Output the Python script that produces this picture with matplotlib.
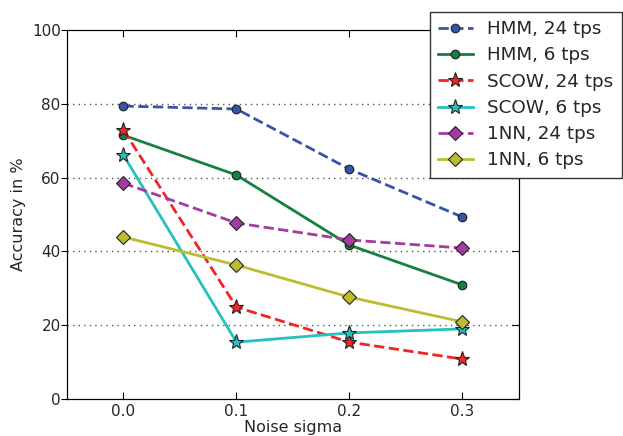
import numpy as np
import matplotlib
matplotlib.use("Agg")
import matplotlib.pyplot as plt

# valori
sigma = [0.0, 0.1, 0.2, 0.3]
hmm_24 = [79.4, 78.6, 62.3, 49.3]
hmm_6 = [71.5, 60.7, 41.7, 30.9]
scow_24 = [72.9, 24.9, 15.4, 10.8]
scow_6 = [66.1, 15.4, 17.9, 19.0]
nn_24 = [58.5, 47.7, 43.1, 40.9]
nn_6 = [43.9, 36.3, 27.6, 20.9]
yticks = [0, 20, 40, 60, 80, 100]

series = [
    ("HMM, 24 tps", hmm_24, "#3555a5", "--", "o", 6.2),
    ("HMM, 6 tps", hmm_6, "#168040", "-", "o", 6.2),
    ("SCOW, 24 tps", scow_24, "#f02525", "--", "*", 11),
    ("SCOW, 6 tps", scow_6, "#25c0c0", "-", "*", 11),
    ("1NN, 24 tps", nn_24, "#a53aa0", "--", "D", 7),
    ("1NN, 6 tps", nn_6, "#bcbc30", "-", "D", 7),
]

plt.rcParams["text.color"] = "#262626"
plt.rcParams["axes.labelcolor"] = "#262626"
plt.rcParams["xtick.labelcolor"] = "#262626"
plt.rcParams["ytick.labelcolor"] = "#262626"

fig = plt.figure(figsize=(6.23, 4.36), dpi=100)
ax = fig.add_axes([0.1075, 0.085, 0.7255, 0.846])

for label, vals, col, ls, mk, ms in series:
    ax.plot(sigma, vals, color=col, linestyle=ls, linewidth=2, marker=mk,
            markersize=ms, markeredgecolor="#222222", markeredgewidth=0.8,
            label=label)

ax.set_xlim(-0.05, 0.35)
ax.set_ylim(0, 100)
ax.set_xticks(sigma)
ax.set_yticks(yticks)
ax.tick_params(axis="x", direction="in", top=True, labelsize=11, length=5)
ax.tick_params(axis="y", direction="out", labelsize=11, length=4, pad=0.5)

# tacche interne sul lato destro
ax_r = ax.twinx()
ax_r.set_ylim(0, 100)
ax_r.set_yticks(yticks)
ax_r.tick_params(axis="y", direction="in", labelright=False, length=5)

for y in [20, 40, 60, 80]:
    ax.axhline(y, color="#555555", linestyle=(0, (1, 3)), linewidth=1, zorder=0)
ax.set_xlabel("Noise sigma", fontsize=11.5, labelpad=1)
ax.set_ylabel("Accuracy in %", fontsize=11.5)

fig.legend(*ax.get_legend_handles_labels(), loc="upper right",
           bbox_to_anchor=(0.998, 0.9725), fontsize=13.2,
           fancybox=False, edgecolor="#333333", framealpha=1,
           borderaxespad=0, handlelength=1.9, borderpad=0.45,
           labelspacing=0.45)

fig.savefig("out.png", dpi=100)
